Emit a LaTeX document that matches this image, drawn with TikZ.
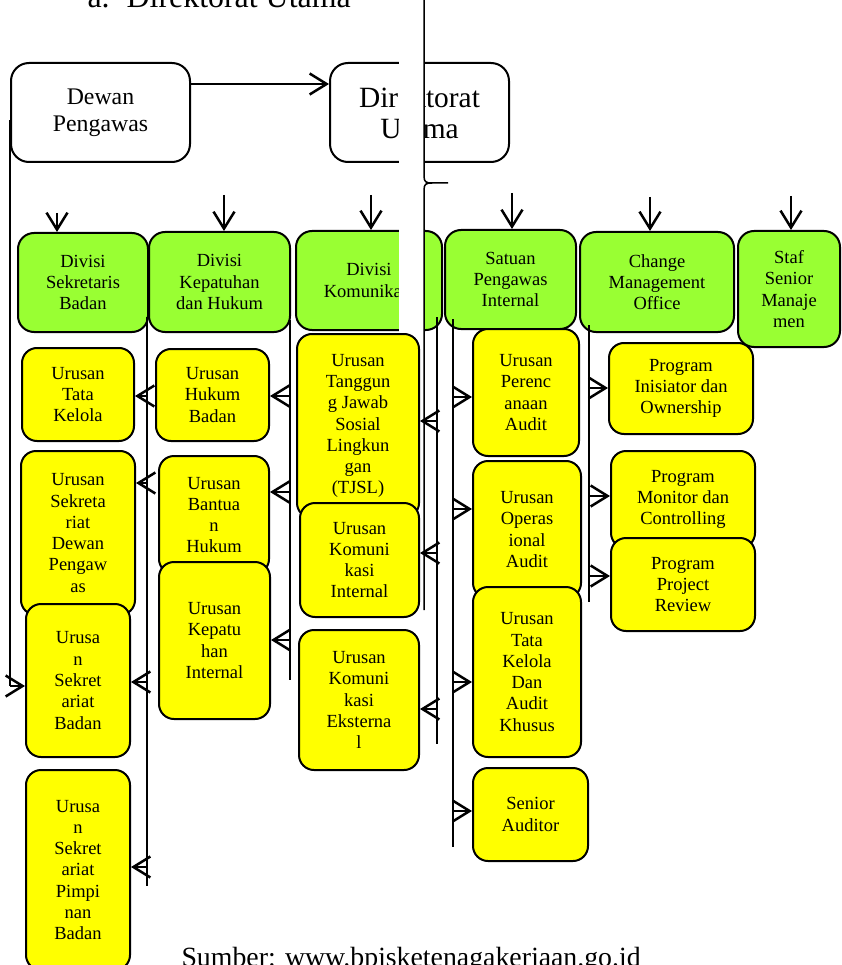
\documentclass[tikz,border=0pt]{standalone}
\usepackage{fontspec}
\setmainfont{Liberation Serif}
\usepackage{tikz}
\usetikzlibrary{arrows.meta}
\definecolor{divgreen}{RGB}{153,255,51}
\definecolor{uryellow}{RGB}{255,255,0}
\newcommand{\boxfont}{\fontsize{18.5}{21.3}\selectfont}
\newcommand{\dpfont}{\fontsize{23.8}{27}\selectfont}
\newcommand{\dufont}{\fontsize{29.4}{31}\selectfont}
\newcommand{\srcfont}{\fontsize{27.8}{30}\selectfont}
\newcommand{\ttlfont}{\fontsize{31.9}{34}\selectfont}

\begin{document}
\begin{tikzpicture}[
  x=1pt, y=-1pt,
  every node/.style={font=\boxfont},
  topbox/.style={draw, line width=2pt, rounded corners=18pt, align=center,
                 inner sep=0pt},
  divbox/.style={draw, line width=2pt, rounded corners=16pt, fill=divgreen,
                 align=center, inner sep=0pt},
  urbox/.style={draw, line width=2pt, rounded corners=15pt, fill=uryellow,
                align=center, inner sep=0pt},
  link/.style={line width=2.5pt},
  arr/.style={line width=2.5pt, -{Straight Barb[length=17pt,width=21pt]}},
  cutline/.style={line width=1.5pt}
]
  \clip (0,0) rectangle (841,965);

  % --- Heading and source line (cut by the page edges) ---
  \node[font=\ttlfont, anchor=base west] (ttl) at (84,7.5)
    {a.\hspace{17pt}Direktorat Utama};
  \node[font=\srcfont, anchor=base west] (src) at (178,966)
    {Sumber: www.bpjsketenagakerjaan.go.id};

  % --- Top level ---
  \node[topbox, font=\dpfont, minimum width=179pt, minimum height=99pt] (dp)
    at (100.5,112.5) {Dewan\\Pengawas};
  \node[topbox, font=\dufont, minimum width=179pt, minimum height=99pt] (du)
    at (419.5,112.5) {Direktorat\\Utama};
  \draw[arr] (dp.east |- 0,84) -- (du.west |- 0,84);

  % --- Divisions (green) ---
  \node[divbox, minimum width=130pt, minimum height=99pt]  (dsb) at (83,282.5)
    {Divisi\\Sekretaris\\Badan};
  \node[divbox, minimum width=141pt, minimum height=100pt] (dkh) at (219.5,282)
    {Divisi\\Kepatuhan\\dan Hukum};
  \node[divbox, minimum width=146pt, minimum height=99pt]  (dko) at (369,280.5)
    {Divisi\\Komunikasi};
  \node[divbox, minimum width=131pt, minimum height=99pt]  (spi) at (510.5,279.5)
    {Satuan\\Pengawas\\Internal};
  \node[divbox, minimum width=154pt, minimum height=100pt] (cmo) at (657,282)
    {Change\\Management\\Office};
  \node[divbox, minimum width=102pt, minimum height=116pt] (ssm) at (789,289)
    {Staf\\Senior\\Manaje\\men};

  % --- Arrows into the divisions ---
  \coordinate (inDsb) at (57,213);
  \coordinate (inDkh) at (224,195);
  \coordinate (inDko) at (371,195);
  \coordinate (inSpi) at (512,193);
  \coordinate (inCmo) at (650,197);
  \coordinate (inSsm) at (791,196);
  \draw[arr] (inDsb) -- (inDsb |- dsb.north);
  \draw[arr] (inDkh) -- (inDkh |- dkh.north);
  \draw[arr] (inDko) -- (inDko |- dko.north);
  \draw[arr] (inSpi) -- (inSpi |- spi.north);
  \draw[arr] (inCmo) -- (inCmo |- cmo.north);
  \draw[arr] (inSsm) -- (inSsm |- ssm.north);

  % --- Cut in the page ---
  \fill[white] (399,-2) rectangle (423.5,336);
  \draw[cutline] (424,-2) -- (424,176)
    .. controls (424,182) and (426,183) .. (432,183) -- (448,183)
    (432,183) .. controls (426,183) and (424,184) .. (424,190) -- (424,610);

  % --- Units (yellow), column by column ---
  \node[urbox, minimum width=112pt, minimum height=93pt]  (utk) at (78,394.5)
    {Urusan\\Tata\\Kelola};
  \node[urbox, minimum width=114pt, minimum height=164pt] (usd) at (78,533)
    {Urusan\\Sekreta\\riat\\Dewan\\Pengaw\\as};
  \node[urbox, minimum width=104pt, minimum height=153pt] (usb) at (78,680.5)
    {Urusa\\n\\Sekret\\ariat\\Badan};
  \node[urbox, minimum width=104pt, minimum height=200pt] (usp) at (78,870)
    {Urusa\\n\\Sekret\\ariat\\Pimpi\\nan\\Badan};

  \node[urbox, minimum width=113pt, minimum height=92pt]  (uhb) at (212.5,395)
    {Urusan\\Hukum\\Badan};
  \node[urbox, minimum width=110pt, minimum height=118pt] (ubh) at (214,515)
    {Urusan\\Bantua\\n\\Hukum};
  \node[urbox, minimum width=111pt, minimum height=157pt] (ukp) at (214.5,640.5)
    {Urusan\\Kepatu\\han\\Internal};

  \node[urbox, minimum width=122pt, minimum height=184pt] (utj) at (358,426)
    {Urusan\\Tanggun\\g Jawab\\Sosial\\Lingkun\\gan\\(TJSL)};
  \node[urbox, minimum width=119pt, minimum height=114pt] (uki) at (359.5,560)
    {Urusan\\Komuni\\kasi\\Internal};
  \node[urbox, minimum width=120pt, minimum height=140pt] (uke) at (359,700)
    {Urusan\\Komuni\\kasi\\Eksterna\\l};

  \node[urbox, minimum width=106pt, minimum height=127pt] (upa) at (526,392.5)
    {Urusan\\Perenc\\anaan\\Audit};
  \node[urbox, minimum width=108pt, minimum height=137pt] (uoa) at (527,529.5)
    {Urusan\\Operas\\ional\\Audit};
  \node[urbox, minimum width=108pt, minimum height=170pt] (utd) at (527,672)
    {Urusan\\Tata\\Kelola\\Dan\\Audit\\Khusus};
  \node[urbox, minimum width=115pt, minimum height=93pt]  (sau) at (530.5,814.5)
    {Senior\\Auditor};

  \node[urbox, minimum width=144pt, minimum height=91pt]  (pio) at (681,388.5)
    {Program\\Inisiator dan\\Ownership};
  \node[urbox, minimum width=144pt, minimum height=97pt]  (pmc) at (683,499.5)
    {Program\\Monitor dan\\Controlling};
  \node[urbox, minimum width=144pt, minimum height=93pt]  (ppr) at (683,584.5)
    {Program\\Project\\Review};

  % --- Dewan Pengawas line ---
  \coordinate (dpTop) at (10,120);
  \coordinate (dpBot) at (10,686);
  \draw[link] (dpTop) -- (dpBot);
  \draw[arr] (dpBot) -- (dpBot -| usb.west);

  % --- Sekretaris Badan line ---
  \coordinate (sekTop) at (147,317);
  \coordinate (sekBot) at (147,886);
  \draw[link] (sekTop) -- (sekBot);
  \draw[arr] (sekTop |- 0,396) -- (utk.east |- 0,396);
  \draw[arr] (sekTop |- 0,483) -- (usd.east |- 0,483);
  \draw[arr] (sekTop |- 0,682) -- (usb.east |- 0,682);
  \draw[arr] (sekTop |- 0,867) -- (usp.east |- 0,867);

  % --- Kepatuhan dan Hukum line ---
  \coordinate (kphTop) at (290,320);
  \coordinate (kphBot) at (290,680);
  \draw[link] (kphTop) -- (kphBot);
  \draw[arr] (kphTop |- 0,396) -- (uhb.east |- 0,396);
  \draw[arr] (kphTop |- 0,492) -- (ubh.east |- 0,492);
  \draw[arr] (kphTop |- 0,640) -- (ukp.east |- 0,640);

  % --- Komunikasi line ---
  \coordinate (komTop) at (437,317);
  \coordinate (komBot) at (437,744);
  \draw[link] (komTop) -- (komBot);
  \draw[arr] (komTop |- 0,421) -- (utj.east |- 0,421);
  \draw[arr] (komTop |- 0,553) -- (uki.east |- 0,553);
  \draw[arr] (komTop |- 0,709) -- (uke.east |- 0,709);

  % --- Satuan Pengawas Internal line ---
  \coordinate (spiTop) at (453,319);
  \coordinate (spiBot) at (453,847);
  \draw[link] (spiTop) -- (spiBot);
  \draw[arr] (spiTop |- 0,397) -- (upa.west |- 0,397);
  \draw[arr] (spiTop |- 0,509) -- (uoa.west |- 0,509);
  \draw[arr] (spiTop |- 0,682) -- (utd.west |- 0,682);
  \draw[arr] (spiTop |- 0,811) -- (sau.west |- 0,811);

  % --- Change Management Office line ---
  \coordinate (cmoTop) at (589,325);
  \coordinate (cmoBot) at (589,602);
  \draw[link] (cmoTop) -- (cmoBot);
  \draw[arr] (cmoTop |- 0,388) -- (pio.west |- 0,388);
  \draw[arr] (cmoTop |- 0,496) -- (pmc.west |- 0,496);
  \draw[arr] (cmoTop |- 0,576) -- (ppr.west |- 0,576);

\end{tikzpicture}
\end{document}
